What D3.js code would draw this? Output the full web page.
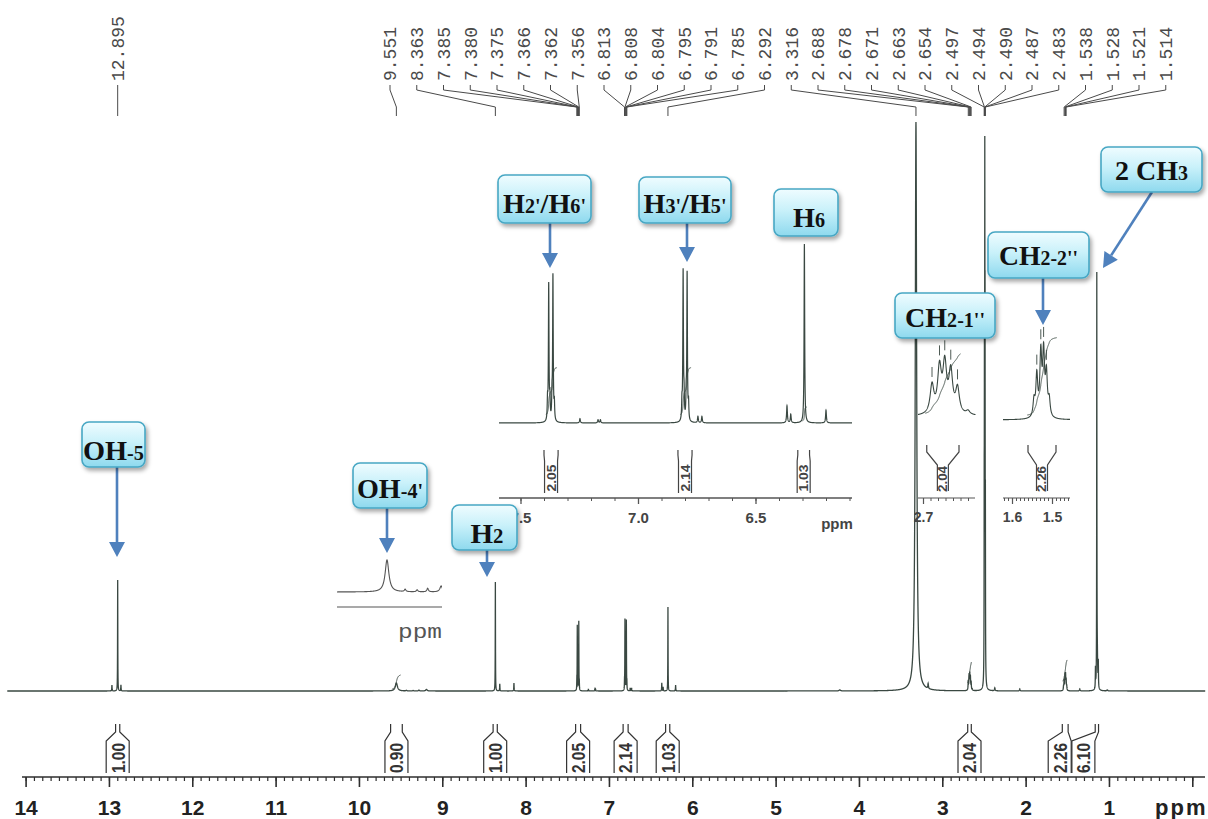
<!DOCTYPE html>
<html><head><meta charset="utf-8">
<script src="https://cdn.jsdelivr.net/npm/d3@7"></script>
<style>body{margin:0;background:#fff}svg{display:block}</style>
</head><body><svg id="c" width="1208" height="819"></svg>
<script>
// ================= DATA =================
// peak list: chemical shift (ppm), relative intensity, half width (ppm)
const peakShifts = [
  12.964, 12.895, 12.856,
  9.551, 9.43, 9.35, 9.28, 9.19,
  8.363, 8.31, 8.14,
  7.385, 7.380, 7.375, 7.366, 7.362, 7.356,
  7.247, 7.17, 7.16,
  6.813, 6.808, 6.804, 6.795, 6.791, 6.785,
  6.745, 6.728,
  6.366, 6.35, 6.292, 6.20,
  4.23,
  3.316, 3.17,
  2.688, 2.678, 2.671, 2.663, 2.654, 2.640,
  2.497, 2.494, 2.490, 2.487, 2.483,
  2.37, 2.07,
  1.545, 1.538, 1.528, 1.521, 1.514, 1.507,
  1.35,
  1.162, 1.146, 1.140, 1.128,
  1.02
];
const peakHeights = [
  6, 111, 6,
  8, 0.6, 0.5, 0.9, 1.5,
  109, 7, 8,
  9, 64, 10, 10, 68, 8,
  2, 1.5, 1.5,
  8, 70, 10, 10, 69, 8,
  3, 3,
  8, 4, 84, 6,
  1,
  569, 5,
  9, 14, 15, 13, 8, 1.2,
  148, 297, 446, 297, 148,
  3, 2,
  4, 10, 15, 15, 10, 4,
  2,
  20, 406, 30, 25,
  1
];
const peakWidths = [
  0.002, 0.0015, 0.002,
  0.015, 0.006, 0.006, 0.006, 0.01,
  0.0015, 0.002, 0.002,
  0.0015, 0.0015, 0.0015, 0.0015, 0.0015, 0.0015,
  0.002, 0.002, 0.002,
  0.0015, 0.0015, 0.0015, 0.0015, 0.0015, 0.0015,
  0.002, 0.002,
  0.002, 0.002, 0.0015, 0.002,
  0.01,
  0.01, 0.004,
  0.003, 0.003, 0.003, 0.003, 0.003, 0.003,
  0.0015, 0.0015, 0.0015, 0.0015, 0.0015,
  0.004, 0.004,
  0.0028, 0.0028, 0.0028, 0.0028, 0.0028, 0.0028,
  0.004,
  0.002, 0.0015, 0.005, 0.002,
  0.005
];
// peak-picking labels at the top
const pickedLabels = ["12.895","9.551","8.363","7.385","7.380","7.375","7.366","7.362","7.356",
  "6.813","6.808","6.804","6.795","6.791","6.785","6.292","3.316",
  "2.688","2.678","2.671","2.663","2.654","2.497","2.494","2.490","2.487","2.483",
  "1.538","1.528","1.521","1.514"];
const pickedShifts = pickedLabels.map(Number);
// integrals
const integralFrom   = [12.92, 9.62, 8.39, 7.40, 6.83, 6.32, 2.695, 1.56, 1.165];
const integralTo     = [12.87, 9.48, 8.34, 7.34, 6.77, 6.27, 2.652, 1.49, 1.125];
const integralValues = ["1.00","0.90","1.00","2.05","2.14","1.03","2.04","2.26","6.10"];
// main axis
const axisTicks = [14,13,12,11,10,9,8,7,6,5,4,3,2,1,0];
const axisTickLabels = ["14","13","12","11","10","9","8","7","6","5","4","3","2","1",""];
// aromatic expansion
const insetTicks = [7.5, 7.0, 6.5];
const insetTickLabels = ["7.5","7.0","6.5"];
const insetIntegralIdx = [3,4,5];
// CH2 expansions
const ch2aTicks = [2.7], ch2aTickLabels = ["2.7"];
const ch2bTicks = [1.6, 1.5], ch2bTickLabels = ["1.6","1.5"];
// integral traces [from, to, low level, high level]
const mainTraceFrom = [9.60, 2.697, 1.555];
const mainTraceTo   = [9.50, 2.648, 1.500];
const mainTraceLow  = [2, 8, 10];
const mainTraceHigh = [16, 29, 31];
const insetTraceFrom = [7.392, 6.820, 6.300];
const insetTraceTo   = [7.345, 6.774, 6.282];
const insetTraceLow  = [4, 4, 1];
const insetTraceHigh = [26, 26, 7.5];
// annotations: [text, small?] parts
const annotationParts = [
  [["OH",0],["-5",1]],
  [["OH",0],["-4'",1]],
  [["H",0],["2",1]],
  [["H",0],["2'",1],["/",0],["H",0],["6'",1]],
  [["H",0],["3'",1],["/",0],["H",0],["5'",1]],
  [["H",0],["6",1]],
  [["CH",0],["2-1''",1]],
  [["CH",0],["2-2''",1]],
  [["2 CH",0],["3",1]]
];

// ================= LAYOUT =================
const svg = d3.select("#c");
const specColor = "#3a4842", axisColor = "#2e2e2e";
const x  = d3.scaleLinear().domain([14,0]).range([25.6,1192.3]);
const y  = d3.scaleLinear().domain([0,569]).range([691,122]);
const xi = d3.scaleLinear().domain([7.0,6.5]).range([638,755.5]);
const yi = d3.scaleLinear().domain([0,84]).range([423,244]);
const x1 = d3.scaleLinear().domain([2.7,2.6]).range([923,998]);
const y1 = d3.scaleLinear().domain([0,19]).range([417,357]);
const x2 = d3.scaleLinear().domain([1.6,1.5]).range([1012,1052]);
const y2 = d3.scaleLinear().domain([0,17]).range([420,350]);
const x4 = d3.scaleLinear().domain([9.551,9.051]).range([387,462]);
const y4 = d3.scaleLinear().domain([0,8]).range([592,560]);

function spec(d){
  let s=0;
  for(let i=0;i<peakShifts.length;i++){const u=(d-peakShifts[i])/peakWidths[i]; s+=peakHeights[i]/(1+u*u);}
  return s;
}
function sample(d0,d1,step){
  const pts=[];
  for(let d=d0; d>=d1; d-=step) pts.push(d);
  peakShifts.forEach(s=>{ if(s<d0 && s>d1) pts.push(s); });
  pts.sort((a,b)=>b-a);
  return pts.map(d=>[d,spec(d)]);
}
function trace(d0,d1,lo,hi,step){
  const pts=sample(d0,d1,step);
  let cum=[0]; for(let i=1;i<pts.length;i++) cum.push(cum[i-1]+(pts[i][1]+pts[i-1][1])/2);
  const tot=cum[cum.length-1];
  return pts.map((p,i)=>[p[0], lo+(hi-lo)*cum[i]/tot]);
}

const defs = svg.append("defs");
const grad = defs.append("linearGradient").attr("id","boxg").attr("x1",0).attr("y1",0).attr("x2",0).attr("y2",1);
grad.append("stop").attr("offset","0%").attr("stop-color","#effcff");
grad.append("stop").attr("offset","45%").attr("stop-color","#c9f1fa");
grad.append("stop").attr("offset","100%").attr("stop-color","#8ed9ee");
const flt = defs.append("filter").attr("id","sh").attr("x","-20%").attr("y","-20%").attr("width","150%").attr("height","160%");
flt.append("feDropShadow").attr("dx",2).attr("dy",3).attr("stdDeviation",2).attr("flood-color","#000").attr("flood-opacity",0.35);
function clip(id,x0,x1_,y0,y1_){defs.append("clipPath").attr("id",id).append("rect").attr("x",x0).attr("y",y0).attr("width",x1_-x0).attr("height",y1_-y0);}
clip("cpA",499,852,150,540); clip("cpB",918,976,330,540); clip("cpC",1003,1070,330,540); clip("cpD",337,442,540,600);

// ---------- main spectrum ----------
const mainLine = d3.line().x(d=>x(d[0])).y(d=>y(d[1]));
svg.append("path").datum(sample(14.22,-0.155,0.001)).attr("d",mainLine)
  .attr("fill","none").attr("stroke",specColor).attr("stroke-width",1.3);
mainTraceFrom.forEach((f,i)=>{
  svg.append("path").datum(trace(f,mainTraceTo[i],mainTraceLow[i],mainTraceHigh[i],0.0005)).attr("d",mainLine)
    .attr("fill","none").attr("stroke",specColor).attr("stroke-width",1);
});

// ---------- main axis ----------
const axY = 777;
svg.append("line").attr("x1",22).attr("x2",1205).attr("y1",axY).attr("y2",axY).attr("stroke",axisColor).attr("stroke-width",1.6);
const minorAx = svg.append("g").attr("transform",`translate(0,${axY})`)
  .call(d3.axisBottom(x).tickValues(d3.range(0,141).map(i=>i/10)).tickSize(4).tickFormat(""));
minorAx.select(".domain").remove();
minorAx.selectAll("line").attr("stroke",axisColor).attr("stroke-width",1.2);
const majorAx = svg.append("g").attr("transform",`translate(0,${axY})`)
  .call(d3.axisBottom(x).tickValues(axisTicks).tickSize(10).tickPadding(13).tickFormat((d,i)=>axisTickLabels[i]));
majorAx.select(".domain").remove();
majorAx.selectAll("line").attr("stroke",axisColor).attr("stroke-width",1.6);
majorAx.selectAll("text").attr("font-family","Liberation Sans, Arial, sans-serif").attr("font-weight","bold")
  .attr("font-size",21).attr("fill","#222");
svg.append("text").attr("x",1155).attr("y",815).attr("font-family","Liberation Sans, Arial, sans-serif")
  .attr("font-weight","bold").attr("font-size",22).attr("letter-spacing",2).attr("fill","#222").text("ppm");

// ---------- integrals ----------
function bracket(g, xa, xb, cx, half, yTop, yStub, yShoulder, yBot, label, fs, len, color){
  const p = d3.path();
  const l = Math.min(xa,xb), r = Math.max(xa,xb);
  p.moveTo(l,yTop); p.lineTo(l,yStub); p.lineTo(cx-half,yShoulder); p.lineTo(cx-half,yBot);
  p.moveTo(r,yTop); p.lineTo(r,yStub); p.lineTo(cx+half,yShoulder); p.lineTo(cx+half,yBot);
  g.append("path").attr("d",p.toString()).attr("fill","none").attr("stroke",color).attr("stroke-width",1.2);
  g.append("text").attr("transform",`translate(${cx},${(yShoulder+yBot)/2+1}) rotate(-90)`)
    .attr("text-anchor","middle").attr("dy","0.36em")
    .attr("font-family","Liberation Sans, Arial, sans-serif").attr("font-weight","bold").attr("font-size",fs)
    .attr("textLength",len).attr("lengthAdjust","spacingAndGlyphs").attr("fill",color).text(label);
}
const integG = svg.append("g");
const boxShift = {7:-5.5, 8:-13.5};
integralValues.forEach((v,i)=>{
  const xa=x(integralFrom[i]), xb=x(integralTo[i]);
  const cx=(xa+xb)/2+(boxShift[i]||0);
  bracket(integG, xa, xb, cx, 11.5, 724, 732, 741, 773, v, 19, 30, "#333");
});

// ---------- peak picking labels ----------
const pkG = svg.append("g");
pickedLabels.forEach((lab,i)=>{
  const tx = x(pickedShifts[i]);
  const lx = i===0 ? tx : 390 + 26.75*(i-1);
  pkG.append("text").attr("transform",`translate(${lx},81) rotate(-90)`).attr("dy","0.36em")
    .attr("font-family","Liberation Mono, DejaVu Sans Mono, monospace").attr("font-size",18).attr("fill","#4a4a4a").text(lab);
  const p = d3.path(); p.moveTo(lx,85); p.lineTo(lx,90); p.lineTo(tx,107); p.lineTo(tx,116);
  pkG.append("path").attr("d",p.toString()).attr("fill","none").attr("stroke","#4a4a4a").attr("stroke-width",1);
});

// ---------- aromatic expansion ----------
const insG = svg.append("g");
const insLine = d3.line().x(d=>xi(d[0])).y(d=>yi(d[1]));
insG.append("path").datum(sample(7.592,6.088,0.0002)).attr("d",insLine).attr("clip-path","url(#cpA)")
  .attr("fill","none").attr("stroke",specColor).attr("stroke-width",1.2);
insetTraceFrom.forEach((f,i)=>{
  insG.append("path").datum(trace(f,insetTraceTo[i],insetTraceLow[i],insetTraceHigh[i],0.0002)).attr("d",insLine)
    .attr("fill","none").attr("stroke",specColor).attr("stroke-width",0.9);
});
insG.append("line").attr("x1",499).attr("x2",852).attr("y1",498).attr("y2",498).attr("stroke","#555").attr("stroke-width",1.3);
const insMinor = insG.append("g").attr("transform","translate(0,498)")
  .call(d3.axisBottom(xi).tickValues(d3.range(61,76).map(i=>i/10)).tickSize(3).tickFormat(""));
insMinor.select(".domain").remove(); insMinor.selectAll("line").attr("stroke","#555");
const insMajor = insG.append("g").attr("transform","translate(0,498)")
  .call(d3.axisBottom(xi).tickValues(insetTicks).tickSize(6).tickPadding(8).tickFormat((d,i)=>insetTickLabels[i]));
insMajor.select(".domain").remove(); insMajor.selectAll("line").attr("stroke","#555").attr("stroke-width",1.3);
insMajor.selectAll("text").attr("font-family","Liberation Sans, Arial, sans-serif").attr("font-weight","bold")
  .attr("font-size",15).attr("fill","#444");
insG.append("text").attr("x",837).attr("y",529).attr("text-anchor","middle").attr("font-family","Liberation Sans, Arial, sans-serif")
  .attr("font-weight","bold").attr("font-size",15).attr("fill","#444").text("ppm");
insetIntegralIdx.forEach(i=>{
  const xa=xi(integralFrom[i]), xb=xi(integralTo[i]);
  bracket(insG, xa, xb, (xa+xb)/2, 6.5, 450, 455, 461, 493, integralValues[i], 13, 27, "#444");
});

// ---------- CH2 expansions ----------
function miniExp(xs, ys, d0, d1, cp, ticks, tickLabels, integIdx, xl, xr){
  const g = svg.append("g");
  const ln = d3.line().x(d=>xs(d[0])).y(d=>ys(d[1]));
  g.append("path").datum(sample(d0,d1,0.0002)).attr("d",ln).attr("clip-path",`url(#${cp})`)
    .attr("fill","none").attr("stroke",specColor).attr("stroke-width",1.1);
  const ii = integIdx;
  g.append("path").datum(trace(integralFrom[ii]+0.002, integralTo[ii]-0.002, 1.2, 20, 0.0002)).attr("d",ln)
    .attr("fill","none").attr("stroke",specColor).attr("stroke-width",0.9);
  pickedShifts.forEach(s=>{ if(s<d0 && s>d1){ const yt=ys(spec(s));
    g.append("line").attr("x1",xs(s)).attr("x2",xs(s)).attr("y1",yt-15).attr("y2",yt-5).attr("stroke",specColor).attr("stroke-width",0.9);}});
  const xa=xs(integralFrom[ii]), xb=xs(integralTo[ii]);
  bracket(g, xa, xb, (xa+xb)/2, 5.5, 445, 452, 465, 491, integralValues[ii], 12, 26, "#444");
  g.append("line").attr("x1",xl).attr("x2",xr).attr("y1",498).attr("y2",498).attr("stroke","#555").attr("stroke-width",1.2);
  const tv=[]; for(let k=Math.ceil(d1*100);k<=Math.floor(d0*100);k++){const v=k/100; if(xs(v)>=xl&&xs(v)<=xr) tv.push(v);}
  const mn = g.append("g").attr("transform","translate(0,498)").call(d3.axisBottom(xs).tickValues(tv).tickSize(3).tickFormat(""));
  mn.select(".domain").remove(); mn.selectAll("line").attr("stroke","#555");
  const mj = g.append("g").attr("transform","translate(0,498)").call(d3.axisBottom(xs).tickValues(ticks).tickSize(6).tickPadding(8).tickFormat((d,i)=>tickLabels[i]));
  mj.select(".domain").remove(); mj.selectAll("line").attr("stroke","#555").attr("stroke-width",1.2);
  mj.selectAll("text").attr("font-family","Liberation Sans, Arial, sans-serif").attr("font-weight","bold").attr("font-size",14).attr("fill","#444");
}
miniExp(x1, y1, 2.707, 2.63, "cpB", ch2aTicks, ch2aTickLabels, 6, 918, 975);
miniExp(x2, y2, 1.623, 1.455, "cpC", ch2bTicks, ch2bTickLabels, 7, 1003, 1070);

// ---------- OH-4' expansion ----------
const ohG = svg.append("g");
ohG.append("path").datum(sample(9.885,9.18,0.0005)).attr("d",d3.line().x(d=>x4(d[0])).y(d=>y4(d[1])))
  .attr("clip-path","url(#cpD)").attr("fill","none").attr("stroke","#555").attr("stroke-width",1.1);
ohG.append("line").attr("x1",337).attr("x2",442).attr("y1",607).attr("y2",607).attr("stroke","#555").attr("stroke-width",1.1);
ohG.append("text").attr("x",420).attr("y",638).attr("text-anchor","middle").attr("font-family","Liberation Mono, monospace")
  .attr("font-size",21).attr("textLength",44).attr("lengthAdjust","spacingAndGlyphs").attr("fill","#555").text("ppm");

// ---------- callouts ----------
const calloutLayout = [
  {b:[82,422,63,45], tw:61, bl:38, ar:[117,467,117,557]},
  {b:[353,463,74,45], tw:66, bl:35, ar:[387,508,387,553]},
  {b:[452,505,65,45], tw:33, bl:38, tx:487, ar:[487,550,487,577]},
  {b:[498,175,93,48], tw:83, bl:38, ar:[550,223,550,268]},
  {b:[639,177,92,46], tw:83, bl:36, ar:[687,223,687,262]},
  {b:[774,189,64,47], tw:32, bl:38, tx:809, ar:null},
  {b:[895,293,100,45], tw:80, bl:34, ar:null},
  {b:[988,232,101,46], tw:79, bl:33, ar:[1043,278,1043,325]},
  {b:[1101,147,101,45], tw:73, bl:33, ar:[1152,192,1103,268]}
];
const arrowColor = "#4f81bd";
const cG = svg.append("g");
calloutLayout.forEach((L,i)=>{
  const [bx,by,bw,bh] = L.b;
  if(L.ar){
    const [ax1,ay1,ax2,ay2]=L.ar;
    const dx=ax2-ax1, dy=ay2-ay1, len=Math.hypot(dx,dy), ux=dx/len, uy=dy/len;
    const hl=15, hw=8;
    cG.append("line").attr("x1",ax1).attr("y1",ay1).attr("x2",ax2-ux*hl).attr("y2",ay2-uy*hl)
      .attr("stroke",arrowColor).attr("stroke-width",2.6);
    const bxp=ax2-ux*hl, byp=ay2-uy*hl;
    cG.append("path").attr("d",`M${ax2},${ay2}L${bxp-uy*hw},${byp+ux*hw}L${bxp+uy*hw},${byp-ux*hw}Z`).attr("fill",arrowColor);
  }
  cG.append("rect").attr("x",bx).attr("y",by).attr("width",bw).attr("height",bh).attr("rx",7)
    .attr("fill","url(#boxg)").attr("stroke","#47a7c4").attr("stroke-width",1.6).attr("filter","url(#sh)");
  const cx = L.tx || (bx+bw/2);
  const t = cG.append("text").attr("font-family","Liberation Serif, 'DejaVu Serif', serif").attr("font-weight","bold")
    .attr("fill","#111").attr("text-anchor","middle");
  annotationParts[i].forEach(([s,small])=>{ t.append("tspan").attr("font-size",small?20:28).text(s); });
  const w = t.node().getComputedTextLength();
  t.attr("transform",`translate(${cx},${by+L.bl}) scale(${L.tw/w},1)`);
});
</script></body></html>
